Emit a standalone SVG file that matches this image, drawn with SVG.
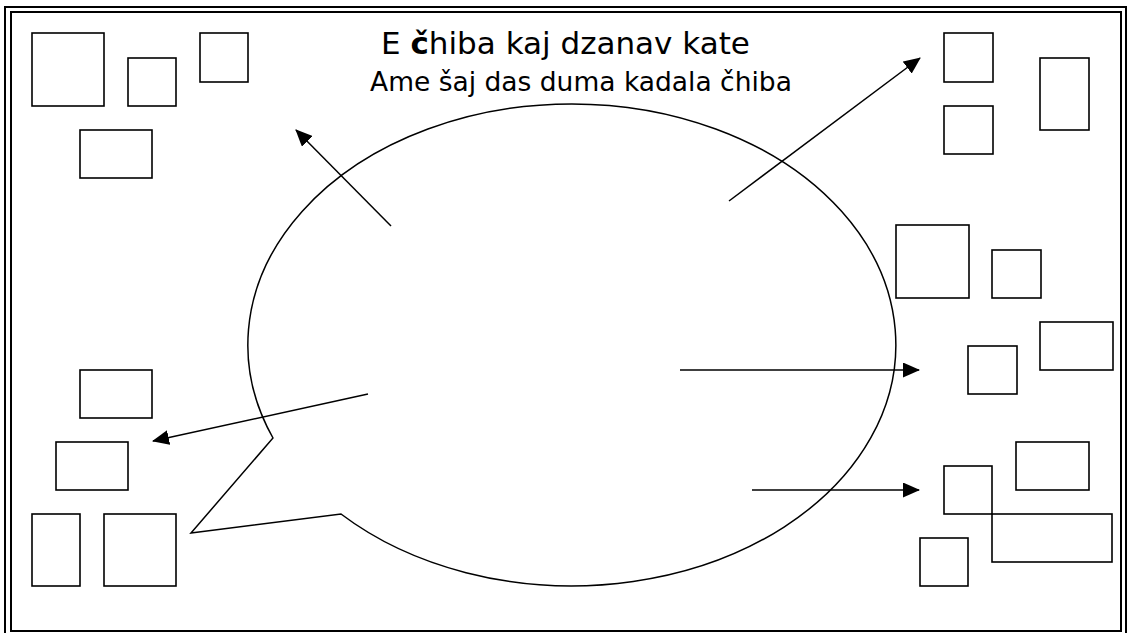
<svg xmlns="http://www.w3.org/2000/svg" width="1130" height="633" viewBox="0 0 1130 633">
  <style>
    .frame { fill: none; stroke: #000; stroke-width: 2; }
    .box { fill: none; stroke: #000; stroke-width: 1.6; }
    .bubble { fill: none; stroke: #000; stroke-width: 1.5; }
    .conn { stroke: #000; stroke-width: 1.5; fill: none; marker-end: url(#arrow); }
    .t1 { font-family: "DejaVu Sans", Verdana, sans-serif; font-size: 31px; fill: #000; }
    .t2 { font-family: "DejaVu Sans", Verdana, sans-serif; font-size: 26.5px; fill: #000; }
  </style>
  <defs>
    <marker id="arrow" markerUnits="userSpaceOnUse" markerWidth="17" markerHeight="15" refX="16" refY="7.5" orient="auto">
      <path d="M0,0 L17,7.5 L0,15 Z" fill="#000"/>
    </marker>
  </defs>
  <rect width="1130" height="633" fill="#fff"/>
  <g id="frame">
    <rect class="frame" x="5" y="7" width="1121" height="630"/>
    <rect class="frame" x="11" y="12" width="1110" height="619"/>
  </g>
  <g id="title">
    <text class="t1" x="381" y="54">E <tspan font-weight="bold">č</tspan>hiba kaj dzanav kate</text>
    <text class="t2" x="370" y="91">Ame šaj das duma kadala čhiba</text>
  </g>
  <g id="bubble">
    <path class="bubble" d="M273,438 A324,241 0 1 1 341,514 L191,533 Z"/>
  </g>
  <g id="boxes-top-left">
    <rect id="b1" class="box" x="32" y="33" width="72" height="73"/>
    <rect id="b2" class="box" x="128" y="58" width="48" height="48"/>
    <rect id="b3" class="box" x="200" y="33" width="48" height="49"/>
    <rect id="b4" class="box" x="80" y="130" width="72" height="48"/>
  </g>
  <g id="boxes-top-right">
    <rect id="b5" class="box" x="944" y="33" width="49" height="49"/>
    <rect id="b6" class="box" x="944" y="106" width="49" height="48"/>
    <rect id="b7" class="box" x="1040" y="58" width="49" height="72"/>
  </g>
  <g id="boxes-mid-right">
    <rect id="b8" class="box" x="896" y="225" width="73" height="73"/>
    <rect id="b9" class="box" x="992" y="250" width="49" height="48"/>
    <rect id="b10" class="box" x="968" y="346" width="49" height="48"/>
    <rect id="b11" class="box" x="1040" y="322" width="73" height="48"/>
  </g>
  <g id="boxes-bottom-right">
    <rect id="b12" class="box" x="944" y="466" width="48" height="48"/>
    <rect id="b13" class="box" x="1016" y="442" width="73" height="48"/>
    <rect id="b14" class="box" x="992" y="514" width="120" height="48"/>
    <rect id="b15" class="box" x="920" y="538" width="48" height="48"/>
  </g>
  <g id="boxes-left">
    <rect id="b16" class="box" x="80" y="370" width="72" height="48"/>
    <rect id="b17" class="box" x="56" y="442" width="72" height="48"/>
    <rect id="b18" class="box" x="32" y="514" width="48" height="72"/>
    <rect id="b19" class="box" x="104" y="514" width="72" height="72"/>
  </g>
  <g id="connectors">
    <line class="conn" x1="391" y1="226" x2="296" y2="130"/>
    <line class="conn" x1="729" y1="201" x2="920" y2="58"/>
    <line class="conn" x1="680" y1="370" x2="919" y2="370"/>
    <line class="conn" x1="752" y1="490" x2="919" y2="490"/>
    <line class="conn" x1="368" y1="394" x2="153" y2="441"/>
  </g>
</svg>
